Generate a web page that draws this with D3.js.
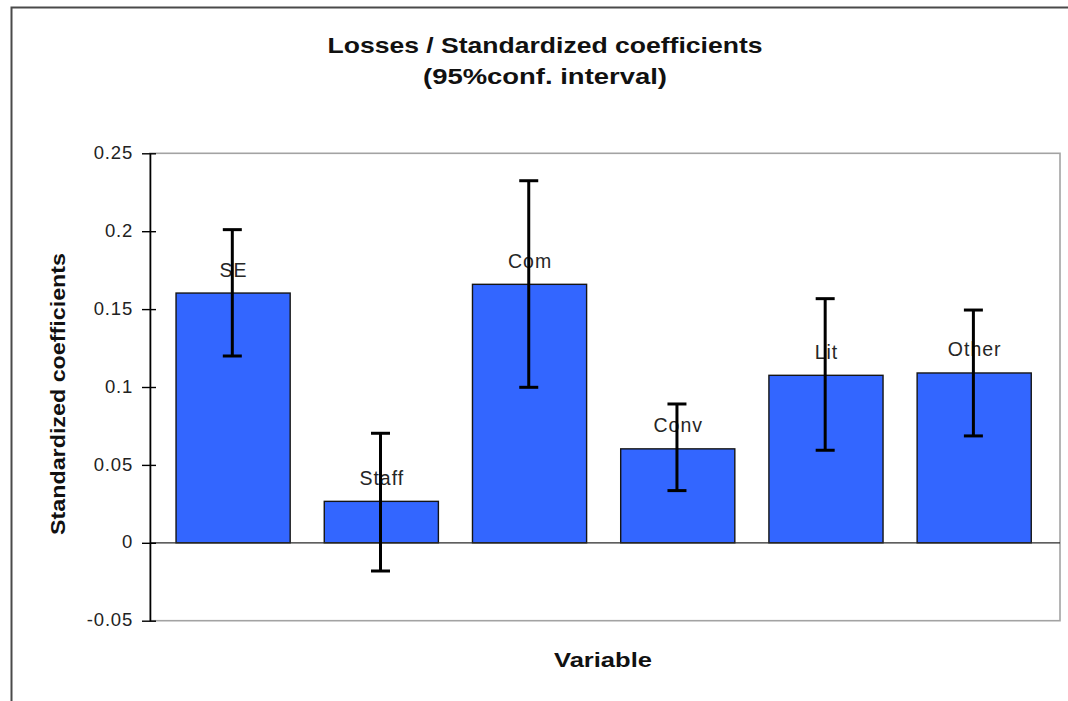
<!DOCTYPE html>
<html>
<head>
<meta charset="utf-8">
<script src="https://cdn.jsdelivr.net/npm/d3@7"></script>
<style>
  html, body { margin: 0; padding: 0; background: #ffffff; }
  svg { display: block; font-family: "Liberation Sans", Arial, sans-serif; }
</style>
</head>
<body>
<svg id="chart" width="1068" height="701"></svg>
<script>
// Standardized coefficients of the "Losses" model with 95% confidence bounds
const categories   = ["SE", "Staff", "Com", "Conv", "Lit", "Other"];
const coefficients = [0.1603, 0.0266, 0.1659, 0.0603, 0.1075, 0.1090];
const lowerBounds  = [0.1199, -0.0181, 0.0998, 0.0335, 0.0594, 0.0686];
const upperBounds  = [0.2010, 0.0703, 0.2324, 0.0891, 0.1567, 0.1494];
const yTicks       = [-0.05, 0, 0.05, 0.1, 0.15, 0.2, 0.25];

const titleLines = ["Losses / Standardized coefficients", "(95%conf. interval)"];
const yTitle = "Standardized coefficients";
const xTitle = "Variable";

const svg = d3.select("#chart");
const W = 1068, H = 701;
const plot = { left: 150, right: 1060, top: 153.3, bottom: 620.7 };

// outer chart frame (continues past the right and bottom edges)
svg.append("path")
  .attr("d", `M11.5,${H + 5} V7.5 H${W + 5}`)
  .attr("fill", "none")
  .attr("stroke", "#4a4a4a")
  .attr("stroke-width", 2);

const y = d3.scaleLinear().domain([-0.05, 0.25]).range([plot.bottom, plot.top]);
const x = d3.scaleBand()
  .domain(categories)
  .range([plot.left + 9, plot.right - 11.7])
  .paddingInner(0.23)
  .paddingOuter(0.115);

const data = categories.map((c, i) => ({
  name: c, value: coefficients[i], lo: lowerBounds[i], hi: upperBounds[i]
}));

// plot area
svg.append("rect")
  .attr("x", plot.left).attr("y", plot.top)
  .attr("width", plot.right - plot.left)
  .attr("height", plot.bottom - plot.top)
  .attr("fill", "#ffffff")
  .attr("stroke", "#a3a3a3")
  .attr("stroke-width", 1.6);

// bars
svg.append("g").selectAll("rect")
  .data(data)
  .join("rect")
  .attr("x", d => x(d.name))
  .attr("width", x.bandwidth())
  .attr("y", d => Math.min(y(d.value), y(0)))
  .attr("height", d => Math.abs(y(0) - y(d.value)))
  .attr("fill", "#3366ff")
  .attr("stroke", "#151515")
  .attr("stroke-width", 1.4);

// zero line
svg.append("line")
  .attr("x1", plot.left).attr("x2", plot.right)
  .attr("y1", y(0)).attr("y2", y(0))
  .attr("stroke", "#2a2a2a")
  .attr("stroke-width", 1.3);

// category labels above each bar
svg.append("g").selectAll("text")
  .data(data)
  .join("text")
  .attr("x", d => x(d.name) + x.bandwidth() / 2 + 0.5)
  .attr("y", d => y(d.value) - 16.5)
  .attr("text-anchor", "middle")
  .attr("font-size", 19.5)
  .attr("letter-spacing", 1)
  .attr("fill", "#262626")
  .text(d => d.name);

// error bars (95% confidence interval)
const capHalf = 9.5;
const eb = svg.append("g").selectAll("g")
  .data(data)
  .join("g")
  .attr("stroke", "#000")
  .attr("stroke-width", 3);
eb.append("line")
  .attr("x1", d => x(d.name) + x.bandwidth() / 2 - 0.8)
  .attr("x2", d => x(d.name) + x.bandwidth() / 2 - 0.8)
  .attr("y1", d => y(d.hi)).attr("y2", d => y(d.lo));
eb.append("line")
  .attr("x1", d => x(d.name) + x.bandwidth() / 2 - 0.8 - capHalf)
  .attr("x2", d => x(d.name) + x.bandwidth() / 2 - 0.8 + capHalf)
  .attr("y1", d => y(d.hi)).attr("y2", d => y(d.hi));
eb.append("line")
  .attr("x1", d => x(d.name) + x.bandwidth() / 2 - 0.8 - capHalf)
  .attr("x2", d => x(d.name) + x.bandwidth() / 2 - 0.8 + capHalf)
  .attr("y1", d => y(d.lo)).attr("y2", d => y(d.lo));

// y axis with ticks crossing the axis line
const yAxis = d3.axisLeft(y)
  .tickValues(yTicks)
  .tickFormat(d => String(d))
  .tickSizeInner(8)
  .tickSizeOuter(0)
  .tickPadding(9);
const gy = svg.append("g")
  .attr("transform", `translate(${plot.left},0)`)
  .call(yAxis);
gy.select(".domain").attr("stroke", "#000").attr("stroke-width", 1.6);
gy.selectAll(".tick line").attr("x1", 6).attr("x2", -8)
  .attr("stroke", "#000").attr("stroke-width", 1.4);
gy.selectAll(".tick text")
  .attr("font-size", 18.5)
  .attr("letter-spacing", 0.8)
  .attr("fill", "#222")
  .attr("dy", "0.28em")
  .attr("font-family", "'Liberation Sans', Arial, sans-serif");

// titles
const title = svg.append("g")
  .attr("font-weight", "bold")
  .attr("font-size", 22)
  .attr("fill", "#111");
title.append("text")
  .attr("x", 545).attr("y", 53)
  .attr("text-anchor", "middle")
  .attr("textLength", 435)
  .attr("lengthAdjust", "spacingAndGlyphs")
  .text(titleLines[0]);
title.append("text")
  .attr("x", 545).attr("y", 84)
  .attr("text-anchor", "middle")
  .attr("textLength", 244)
  .attr("lengthAdjust", "spacingAndGlyphs")
  .text(titleLines[1]);

svg.append("text")
  .attr("transform", "translate(65,394) rotate(-90)")
  .attr("text-anchor", "middle")
  .attr("font-weight", "bold")
  .attr("font-size", 21)
  .attr("fill", "#111")
  .attr("textLength", 282)
  .attr("lengthAdjust", "spacingAndGlyphs")
  .text(yTitle);

svg.append("text")
  .attr("x", 603).attr("y", 667)
  .attr("text-anchor", "middle")
  .attr("font-weight", "bold")
  .attr("font-size", 21)
  .attr("fill", "#111")
  .attr("textLength", 98)
  .attr("lengthAdjust", "spacingAndGlyphs")
  .text(xTitle);
</script>
</body>
</html>
